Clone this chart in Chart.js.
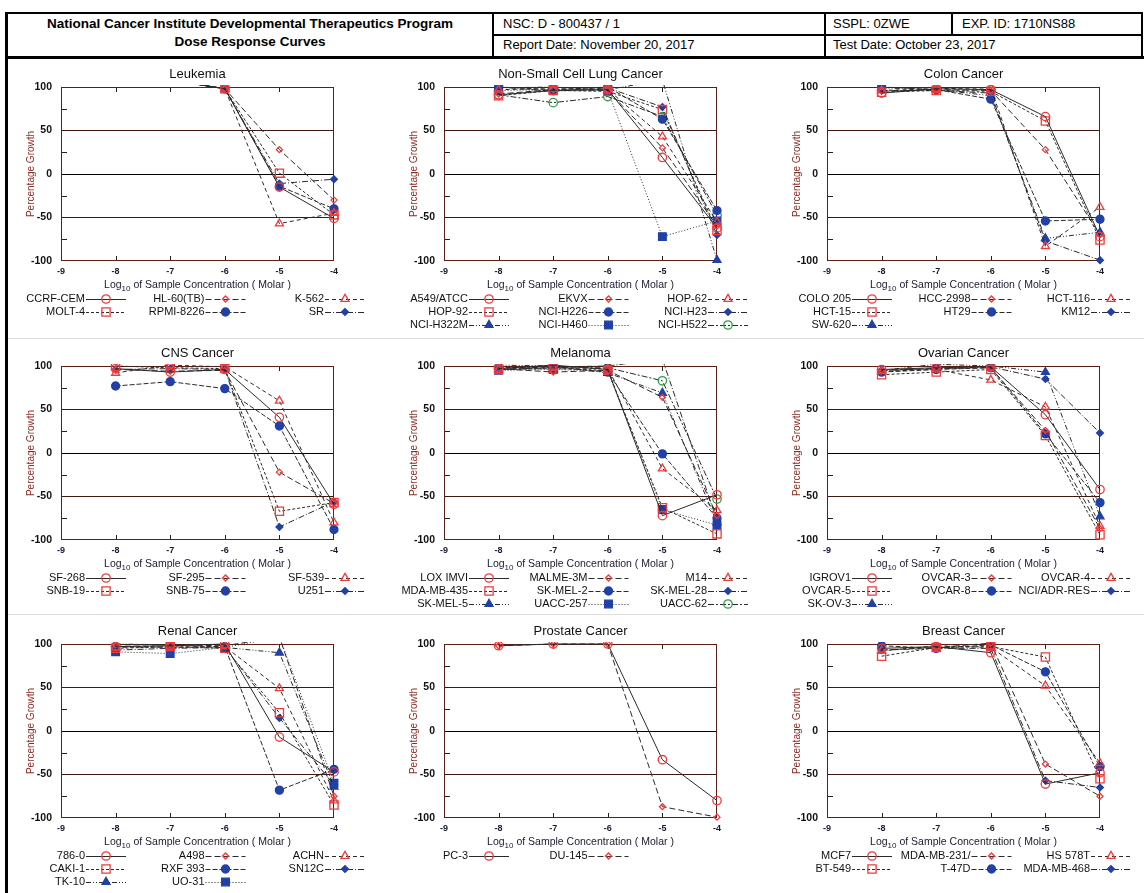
<!DOCTYPE html>
<html>
<head>
<meta charset="utf-8">
<script src="https://cdn.jsdelivr.net/npm/chart.js"></script>
<style>
  body { margin: 0; width: 1144px; height: 893px; overflow: hidden; background: #fff; position: relative;
         font-family: "Liberation Sans", Arial, sans-serif; color: #000; }
  .ln { position: absolute; background: #000; }
  .hd { position: absolute; font-size: 13px; white-space: nowrap; line-height: 16px; }
  .hd.b { font-weight: bold; font-size: 13.5px; text-align: center; width: 486px; left: 7px; }
  .sep { position: absolute; left: 8px; width: 1136px; height: 1px; background: #e2dcdc; }
  canvas { position: absolute; }
</style>
</head>
<body>
<!-- header block -->
<div class="ln" style="left:5px;top:12px;width:1138px;height:2px"></div>
<div class="ln" style="left:5px;top:56px;width:1139px;height:3px"></div>
<div class="ln" style="left:493px;top:34px;width:650px;height:2px"></div>
<div class="ln" style="left:492px;top:12px;width:2px;height:45px"></div>
<div class="ln" style="left:824px;top:12px;width:2px;height:45px"></div>
<div class="ln" style="left:951px;top:12px;width:2px;height:23px"></div>
<div class="ln" style="left:1141px;top:12px;width:2px;height:45px"></div>
<div class="ln" style="left:5px;top:12px;width:3px;height:881px"></div>
<div class="hd b" style="top:16px">National Cancer Institute Developmental Therapeutics Program</div>
<div class="hd b" style="top:34px">Dose Response Curves</div>
<div class="hd" style="left:503px;top:16px">NSC: D - 800437 / 1</div>
<div class="hd" style="left:833px;top:16px">SSPL: 0ZWE</div>
<div class="hd" style="left:962px;top:16px">EXP. ID: 1710NS88</div>
<div class="hd" style="left:503px;top:37px">Report Date: November 20, 2017</div>
<div class="hd" style="left:833px;top:37px">Test Date: October 23, 2017</div>
<div class="sep" style="top:338px"></div>
<div class="sep" style="top:614px"></div>

<script>
// log10 molar concentrations
const doses = [-8, -7, -6, -5, -4];
const xTickValues = [-9, -8, -7, -6, -5, -4];
const yTickValues = [-100, -50, 0, 50, 100];
const yMinorTicks = [75, 25, -25, -75];
const xInnerTicks = [-8, -7, -6, -5];

const panelTitles = ['Leukemia', 'Non-Small Cell Lung Cancer', 'Colon Cancer',
  'CNS Cancer', 'Melanoma', 'Ovarian Cancer',
  'Renal Cancer', 'Prostate Cancer', 'Breast Cancer'];

// values above 100 fall off the top of the plot, as in the original
const leukemiaLines = ['CCRF-CEM', 'HL-60(TB)', 'K-562', 'MOLT-4', 'RPMI-8226', 'SR'];
const leukemiaGrowth = [
  [108, 108, 98, -15, -51],
  [108, 108, 98, 28, -30],
  [108, 108, 98, -57, -45],
  [108, 108, 98, 1, -47],
  [108, 108, 98, -14, -40],
  [108, 108, 98, -11, -6]
];

const nsclcLines = ['A549/ATCC', 'EKVX', 'HOP-62', 'HOP-92', 'NCI-H226', 'NCI-H23', 'NCI-H322M', 'NCI-H460', 'NCI-H522'];
const nsclcGrowth = [
  [91, 96, 97, 19, -62],
  [92, 97, 96, 30, -60],
  [97, 98, 97, 43, -55],
  [90, 96, 95, 74, -65],
  [100, 97, 100, 63, -42],
  [100, 95, 99, 77, -70],
  [99, 100, 97, 108, -99],
  [96, 97, 96, -72, -54],
  [91, 82, 89, 66, -47]
];

const colonLines = ['COLO 205', 'HCC-2998', 'HCT-116', 'HCT-15', 'HT29', 'KM12', 'SW-620'];
const colonGrowth = [
  [93, 98, 97, 66, -72],
  [95, 97, 96, 28, -70],
  [96, 98, 99, -83, -38],
  [94, 96, 95, 61, -76],
  [100, 97, 86, -54, -52],
  [96, 96, 93, -77, -99],
  [99, 97, 90, -74, -67]
];

const cnsLines = ['SF-268', 'SF-295', 'SF-539', 'SNB-19', 'SNB-75', 'U251'];
const cnsGrowth = [
  [97, 93, 96, 41, -59],
  [96, 94, 95, -22, -58],
  [92, 101, 99, 60, -80],
  [100, 98, 97, -67, -57],
  [77, 82, 74, 31, -88],
  [96, 97, 96, -85, -56]
];

const melanomaLines = ['LOX IMVI', 'MALME-3M', 'M14', 'MDA-MB-435', 'SK-MEL-2', 'SK-MEL-28', 'SK-MEL-5', 'UACC-257', 'UACC-62'];
const melanomaGrowth = [
  [97, 101, 96, -72, -48],
  [97, 93, 95, 64, -72],
  [96, 98, 97, -18, -66],
  [96, 97, 95, -63, -93],
  [98, 99, 93, -1, -75],
  [97, 99, 100, 108, -78],
  [101, 100, 92, 69, -80],
  [95, 96, 94, -65, -83],
  [96, 98, 98, 83, -53]
];

const ovarianLines = ['IGROV1', 'OVCAR-3', 'OVCAR-4', 'OVCAR-5', 'OVCAR-8', 'NCI/ADR-RES', 'SK-OV-3'];
const ovarianGrowth = [
  [96, 98, 99, 44, -42],
  [95, 97, 98, 26, -87],
  [94, 96, 84, 53, -84],
  [90, 93, 96, 20, -94],
  [93, 96, 98, 22, -57],
  [95, 97, 99, 85, 23],
  [95, 102, 100, 93, -73]
];

const renalLines = ['786-0', 'A498', 'ACHN', 'CAKI-1', 'RXF 393', 'SN12C', 'TK-10', 'UO-31'];
const renalGrowth = [
  [97, 98, 100, -7, -47],
  [99, 99, 98, 108, -75],
  [96, 98, 97, 49, -80],
  [95, 97, 95, 21, -85],
  [97, 96, 97, -68, -44],
  [93, 95, 96, 15, -62],
  [100, 99, 96, 90, -64],
  [91, 89, 96, 108, -60]
];

const prostateLines = ['PC-3', 'DU-145'];
const prostateGrowth = [
  [98, 100, 100, -33, -80],
  [98, 100, 100, -87, -99]
];

const breastLines = ['MCF7', 'MDA-MB-231/', 'HS 578T', 'BT-549', 'T-47D', 'MDA-MB-468'];
const breastGrowth = [
  [95, 97, 90, -61, -48],
  [93, 96, 101, -38, -75],
  [92, 98, 96, 52, -37],
  [86, 96, 97, 85, -55],
  [98, 95, 99, 68, -41],
  [93, 95, 95, -57, -65]
];

const panelLines = [leukemiaLines, nsclcLines, colonLines, cnsLines, melanomaLines, ovarianLines, renalLines, prostateLines, breastLines];
const panelGrowth = [leukemiaGrowth, nsclcGrowth, colonGrowth, cnsGrowth, melanomaGrowth, ovarianGrowth, renalGrowth, prostateGrowth, breastGrowth];

// styling (by series order within a panel)
const RED = '#ee3b3b', BLUE = '#2140a8', GREEN = '#2e9e48';
const markers = [
  { style: 'circle', color: RED, fill: false, r: 4.2 },
  { style: 'rectRot', color: RED, fill: false, r: 3 },
  { style: 'triangle', color: RED, fill: false, r: 4.6 },
  { style: 'rect', color: RED, fill: false, r: 5.8 },
  { style: 'circle', color: BLUE, fill: true, r: 4 },
  { style: 'rectRot', color: BLUE, fill: true, r: 3.4 },
  { style: 'triangle', color: BLUE, fill: true, r: 4.6 },
  { style: 'rect', color: BLUE, fill: true, r: 5.4 },
  { style: 'circle', color: GREEN, fill: false, r: 4.2 }
];
const dashes = [[], [6, 3], [4, 3], [3, 2], [5, 2], [6, 2, 1, 2], [5, 2, 1, 2, 1, 2], [1, 2], [6, 2, 2, 2]];

const colLeft = [0, 383, 766];
const rowTop = [60, 339, 617];
const FONT = '"Liberation Sans", Arial, sans-serif';

function decor(title) {
  return {
    id: 'decor',
    beforeDatasetsDraw(chart) {
      const ctx = chart.ctx, a = chart.chartArea, xs = chart.scales.x, ys = chart.scales.y;
      ctx.save();
      ctx.strokeStyle = '#222';
      ctx.lineWidth = 1;
      ctx.beginPath();
      yMinorTicks.forEach(v => {
        const y = Math.round(ys.getPixelForValue(v)) + 0.5;
        ctx.moveTo(a.left, y); ctx.lineTo(a.left + 6, y);
      });
      xInnerTicks.forEach(v => {
        const x = Math.round(xs.getPixelForValue(v)) + 0.5;
        ctx.moveTo(x, a.top); ctx.lineTo(x, a.top + 5);
        ctx.moveTo(x, a.bottom); ctx.lineTo(x, a.bottom - 5);
      });
      ctx.stroke();
      ctx.strokeStyle = '#5c1f16';
      ctx.strokeRect(a.left + 0.5, a.top + 0.5, a.right - a.left - 1, a.bottom - a.top - 1);
      ctx.restore();
    },
    afterDraw(chart) {
      const ctx = chart.ctx, a = chart.chartArea;
      const cx = (a.left + a.right) / 2, cy = (a.top + a.bottom) / 2;
      ctx.save();
      // panel title
      ctx.fillStyle = '#111';
      ctx.font = '13px ' + FONT;
      ctx.textAlign = 'center';
      ctx.textBaseline = 'middle';
      ctx.fillText(title, cx, a.top - 13);
      // y title
      ctx.save();
      ctx.translate(a.left - 30, cy);
      ctx.rotate(-Math.PI / 2);
      ctx.fillStyle = '#8b2c22';
      ctx.font = '10px ' + FONT;
      ctx.fillText('Percentage Growth', 0, 0);
      ctx.restore();
      // x title with subscript
      const big = '10.5px ' + FONT, small = '8px ' + FONT;
      const p1 = 'Log', p2 = '10', p3 = ' of Sample Concentration ( Molar )';
      ctx.font = big; const w1 = ctx.measureText(p1).width, w3 = ctx.measureText(p3).width;
      ctx.font = small; const w2 = ctx.measureText(p2).width;
      const x0 = cx - (w1 + w2 + w3) / 2;
      const yl = a.bottom + 24;
      ctx.textAlign = 'left';
      ctx.fillStyle = '#1a1a30';
      ctx.font = big; ctx.fillText(p1, x0, yl);
      ctx.font = small; ctx.fillText(p2, x0 + w1, yl + 4);
      ctx.font = big; ctx.fillText(p3, x0 + w1 + w2, yl);
      // legend: name, then line sample with marker
      chart.data.datasets.forEach((ds, i) => {
        const col = i % 3, row = Math.floor(i / 3);
        const tx = a.left + 24 + col * 119.5;
        const ty = a.top + 212 + row * 13;
        ctx.font = '11px ' + FONT;
        ctx.fillStyle = '#111';
        ctx.textAlign = 'right';
        ctx.fillText(ds.label, tx, ty);
        ctx.save();
        ctx.strokeStyle = ds.borderColor;
        ctx.lineWidth = 1;
        ctx.setLineDash(ds.borderDash);
        ctx.beginPath();
        ctx.moveTo(tx + 1, ty + 0.5); ctx.lineTo(tx + 41, ty + 0.5);
        ctx.stroke();
        ctx.setLineDash([]);
        ctx.fillStyle = ds.pointBackgroundColor;
        ctx.strokeStyle = ds.pointBorderColor;
        ctx.lineWidth = ds.pointBorderWidth;
        Chart.helpers.drawPoint(ctx, { pointStyle: ds.pointStyle, radius: ds.pointRadius, borderWidth: ds.pointBorderWidth, rotation: 0 }, tx + 21, ty);
        ctx.restore();
      });
      ctx.restore();
    }
  };
}

panelTitles.forEach((title, p) => {
  const canvas = document.createElement('canvas');
  canvas.width = 380; canvas.height = 279;
  canvas.style.left = colLeft[p % 3] + 'px';
  canvas.style.top = rowTop[Math.floor(p / 3)] + 'px';
  document.body.appendChild(canvas);

  const datasets = panelLines[p].map((name, i) => {
    const m = markers[i];
    return {
      label: name,
      data: doses.map((d, j) => ({ x: d, y: panelGrowth[p][i][j] })),
      borderColor: '#2a2a2a',
      borderWidth: 1,
      borderDash: dashes[i],
      pointStyle: m.style,
      pointRadius: m.r,
      pointHoverRadius: m.r,
      pointBorderColor: m.color,
      pointBackgroundColor: m.fill ? m.color : 'rgba(255,255,255,0)',
      pointBorderWidth: 1.3,
      tension: 0,
      clip: { left: 6, right: 8, top: 2, bottom: 8 }
    };
  });

  new Chart(canvas.getContext('2d'), {
    type: 'line',
    data: { datasets },
    options: {
      responsive: false,
      animation: false,
      devicePixelRatio: 1,
      layout: { padding: { left: 21, right: 46, top: 27, bottom: 58 } },
      plugins: { legend: { display: false }, tooltip: { enabled: false }, title: { display: false } },
      scales: {
        x: {
          type: 'linear', min: -9, max: -4,
          afterFit: s => { s.height = 20; },
          afterBuildTicks: s => { s.ticks = xTickValues.map(v => ({ value: v })); },
          ticks: { padding: 5, color: '#1a1a30', font: { family: FONT, size: 9, weight: 'bold' } },
          grid: { display: false, drawTicks: false },
          border: { display: false }
        },
        y: {
          min: -100, max: 100,
          afterFit: s => { s.width = 40; },
          afterBuildTicks: s => { s.ticks = yTickValues.map(v => ({ value: v })); },
          ticks: { padding: 9, color: '#111', font: { family: FONT, size: 10.5, weight: 'bold' } },
          grid: {
            drawTicks: false,
            lineWidth: 1,
            color: c => {
              const v = c.tick ? c.tick.value : null;
              if (v === 0) return '#000';
              if (v === 50 || v === -50) return '#3f1810';
              return 'rgba(0,0,0,0)';
            }
          },
          border: { display: false }
        }
      }
    },
    plugins: [decor(title)]
  });
});
</script>
</body>
</html>
